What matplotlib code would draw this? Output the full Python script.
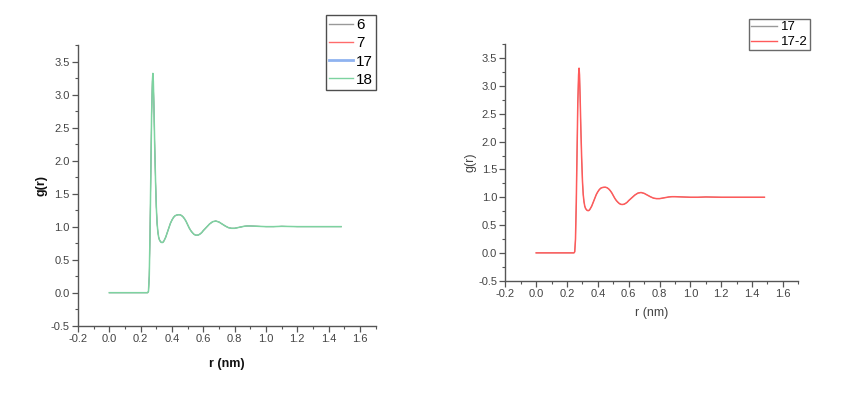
import numpy as np
import matplotlib
matplotlib.use('Agg')
import matplotlib.pyplot as plt
from matplotlib.ticker import MultipleLocator, FormatStrFormatter
from matplotlib.lines import Line2D

plt.rcParams['font.family'] = ['Liberation Sans', 'DejaVu Sans']

# radial distribution function (same curve for every run)
r = [0.00, 0.05, 0.10, 0.15, 0.20, 0.245, 0.250, 0.255, 0.260, 0.265,
     0.270, 0.275, 0.278, 0.281, 0.285, 0.290, 0.295, 0.300, 0.305, 0.310,
     0.315, 0.320, 0.325, 0.330, 0.335, 0.340, 0.345, 0.350, 0.360, 0.370,
     0.380, 0.390, 0.400, 0.410, 0.420, 0.430, 0.440, 0.450, 0.460, 0.470,
     0.480, 0.490, 0.500, 0.510, 0.520, 0.530, 0.540, 0.550, 0.560, 0.570,
     0.580, 0.590, 0.600, 0.620, 0.640, 0.660, 0.680, 0.700, 0.720, 0.740,
     0.760, 0.780, 0.800, 0.820, 0.840, 0.860, 0.880, 0.900, 0.950, 1.000,
     1.050, 1.100, 1.200, 1.300, 1.400, 1.480]
g = [0.00, 0.00, 0.00, 0.00, 0.00, 0.00, 0.02, 0.25, 0.90, 1.80,
     2.70, 3.20, 3.32, 3.20, 2.80, 2.20, 1.70, 1.30, 1.05, 0.92,
     0.84, 0.80, 0.78, 0.765, 0.76, 0.76, 0.77, 0.79, 0.84, 0.91,
     0.98, 1.05, 1.10, 1.14, 1.165, 1.175, 1.18, 1.18, 1.17, 1.15,
     1.12, 1.08, 1.03, 0.98, 0.94, 0.91, 0.885, 0.872, 0.87, 0.875,
     0.89, 0.91, 0.94, 0.99, 1.04, 1.075, 1.085, 1.07, 1.04, 1.01,
     0.985, 0.975, 0.975, 0.985, 0.995, 1.005, 1.01, 1.01, 1.005, 1.00,
     1.00, 1.005, 1.00, 1.00, 1.00, 1.00]

left_labels = ['6', '7', '17', '18']
left_colors = ['#999999', '#ff6b6b', '#8fb3f0', '#7dd3a0']
left_widths = [1.0, 1.0, 2.0, 1.0]
right_labels = ['17', '17-2']
right_colors = ['#999999', '#ff5a5a']

fig = plt.figure(figsize=(8.6, 3.93), dpi=100)
axL = fig.add_axes([0.0907, 0.1712, 0.346, 0.7143])
axR = fig.add_axes([0.5876, 0.2858, 0.3407, 0.6015])


def style(ax, bold, ypad, xpad):
    ax.set_xlim(-0.2, 1.7)
    ax.set_ylim(-0.5, 3.75)
    ax.xaxis.set_major_locator(MultipleLocator(0.2))
    ax.xaxis.set_minor_locator(MultipleLocator(0.1))
    ax.yaxis.set_major_locator(MultipleLocator(0.5))
    ax.yaxis.set_minor_locator(MultipleLocator(0.25))
    ax.spines['top'].set_visible(False)
    ax.spines['right'].set_visible(False)
    for s in ['left', 'bottom']:
        ax.spines[s].set_color('#555555')
        ax.spines[s].set_linewidth(1.0)
    ax.tick_params(which='major', direction='out', length=4, width=0.9,
                   color='#555555', labelsize=8, labelcolor='#444444', pad=2)
    ax.tick_params(which='minor', direction='out', length=2.5, width=0.8,
                   color='#555555')
    ax.xaxis.set_major_formatter(FormatStrFormatter('%.1f'))
    ax.yaxis.set_major_formatter(FormatStrFormatter('%.1f'))
    w = 'bold' if bold else 'normal'
    col = '#111111' if bold else '#444444'
    ax.set_xlabel('r (nm)', fontsize=9, fontweight=w, color=col, labelpad=xpad)
    ax.set_ylabel('g(r)', fontsize=9, fontweight=w, color=col, labelpad=ypad)


# all runs overlap; the last one drawn sits on top
for i, (lab, c) in enumerate(zip(left_labels, left_colors)):
    top = i == len(left_labels) - 1
    axL.plot(r, g, color=c, lw=1.1 if top else 0.6, label=lab)
style(axL, True, 2, 10)
handles = [Line2D([], [], color=c, lw=lw) for c, lw in zip(left_colors, left_widths)]
legL = fig.legend(handles, left_labels, loc='upper left',
                  bbox_to_anchor=(0.3787, 0.962), fontsize=11,
                  frameon=True, fancybox=False, handlelength=1.6,
                  handletextpad=0.2, borderpad=0.2, labelspacing=0.28,
                  borderaxespad=0)
legL.get_frame().set_edgecolor('#222222')
legL.get_frame().set_linewidth(1.0)

for i, (lab, c) in enumerate(zip(right_labels, right_colors)):
    top = i == len(right_labels) - 1
    axR.plot(r, g, color=c, lw=1.1 if top else 0.6, label=lab)
style(axR, False, 1, 6)
legR = fig.legend(loc='upper left',
                  handles=[Line2D([], [], color=c, lw=1.0) for c in right_colors],
                  labels=right_labels,
                  bbox_to_anchor=(0.8706, 0.951), fontsize=9.5,
                  frameon=True, fancybox=False, handlelength=2.0,
                  handletextpad=0.3, borderpad=0.15, labelspacing=0.2,
                  borderaxespad=0)
legR.get_frame().set_edgecolor('#444444')
legR.get_frame().set_linewidth(1.0)

fig.savefig('out.png', dpi=100)
